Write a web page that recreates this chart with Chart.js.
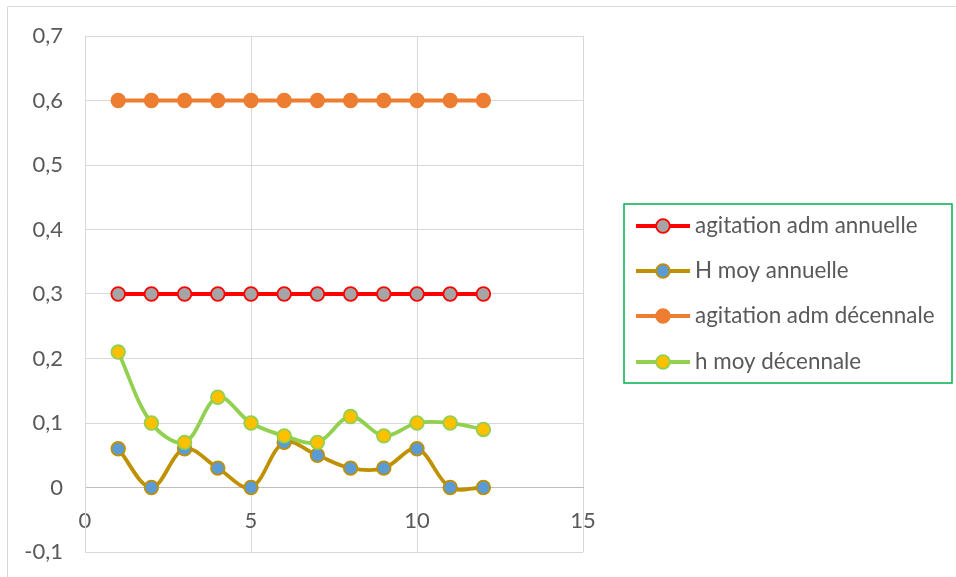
<!DOCTYPE html>
<html>
<head>
<meta charset="utf-8">
<script src="https://cdn.jsdelivr.net/npm/chart.js@4.4.0/dist/chart.umd.min.js"></script>
<style>
  html, body { margin: 0; padding: 0; background: #fff; }
  #wrap { position: relative; width: 956px; height: 577px; }
  canvas { display: block; }
</style>
</head>
<body>
<div id="wrap"><canvas id="c" width="956" height="577"></canvas></div>
<script>
// ---- data ----
const xValues = [1, 2, 3, 4, 5, 6, 7, 8, 9, 10, 11, 12];
const agitationAdmAnnuelle = [0.3, 0.3, 0.3, 0.3, 0.3, 0.3, 0.3, 0.3, 0.3, 0.3, 0.3, 0.3];
const hMoyAnnuelle = [0.06, 0, 0.06, 0.03, 0, 0.07, 0.05, 0.03, 0.03, 0.06, 0, 0];
const agitationAdmDecennale = [0.6, 0.6, 0.6, 0.6, 0.6, 0.6, 0.6, 0.6, 0.6, 0.6, 0.6, 0.6];
const hMoyDecennale = [0.21, 0.1, 0.07, 0.14, 0.1, 0.08, 0.07, 0.11, 0.08, 0.1, 0.1, 0.09];
const seriesLabels = ['agitation adm annuelle', 'H moy annuelle', 'agitation adm décennale', 'h moy décennale'];
const xTicks = [0, 5, 10, 15];
const yTicks = [-0.1, 0, 0.1, 0.2, 0.3, 0.4, 0.5, 0.6, 0.7];

const FONT = 'Lato';
const TEXT = '#595959';

function pts(ys) { return xValues.map((x, i) => ({ x: x, y: ys[i] })); }

const styles = [
  { line: '#FF0000', fill: '#A5A5A5', border: '#FF0000', tension: 0 },
  { line: '#BF9000', fill: '#5B9BD5', border: '#BF9000', tension: 0.35 },
  { line: '#ED7D31', fill: '#ED7D31', border: '#ED7D31', tension: 0 },
  { line: '#92D050', fill: '#FFC000', border: '#92D050', tension: 0.35 }
];
const values = [agitationAdmAnnuelle, hMoyAnnuelle, agitationAdmDecennale, hMoyDecennale];

const datasets = values.map((v, i) => ({
  label: seriesLabels[i],
  data: pts(v),
  showLine: true,
  borderColor: styles[i].line,
  backgroundColor: styles[i].fill,
  pointBackgroundColor: styles[i].fill,
  pointBorderColor: styles[i].border,
  pointBorderWidth: 1.8,
  pointRadius: 6.8,
  borderWidth: 3.8,
  tension: styles[i].tension,
  order: 4 - i
}));

function fmt(v) {
  const r = Math.round(v * 10) / 10;
  return String(r).replace('.', ',');
}

const frame = {
  id: 'frame',
  beforeDraw(chart) {
    const ctx = chart.ctx;
    ctx.save();
    ctx.strokeStyle = '#D9D9D9';
    ctx.lineWidth = 1;
    ctx.beginPath();
    ctx.moveTo(7.5, 577);
    ctx.lineTo(7.5, 6.5);
    ctx.lineTo(956, 6.5);
    ctx.stroke();
    ctx.restore();
  },
  afterDraw(chart) {
    const ctx = chart.ctx;
    ctx.save();
    // legend box
    ctx.strokeStyle = '#00B050';
    ctx.lineWidth = 1.5;
    ctx.strokeRect(624, 204, 328, 179);
    const ys = [226, 271, 316, 362];
    chart.data.datasets.forEach((ds, i) => {
      const y = ys[i];
      ctx.strokeStyle = ds.borderColor;
      ctx.lineWidth = 3.8;
      ctx.beginPath();
      ctx.moveTo(636, y);
      ctx.lineTo(690, y);
      ctx.stroke();
      ctx.beginPath();
      ctx.arc(663, y, 6.8, 0, Math.PI * 2);
      ctx.fillStyle = ds.pointBackgroundColor;
      ctx.fill();
      ctx.lineWidth = 1.8;
      ctx.strokeStyle = ds.pointBorderColor;
      ctx.stroke();
      ctx.fillStyle = TEXT;
      ctx.font = '22.4px ' + FONT;
      ctx.textBaseline = 'middle';
      ctx.textAlign = 'left';
      ctx.fillText(ds.label, 695, y);
    });
    ctx.restore();
  }
};

new Chart(document.getElementById('c'), {
  type: 'scatter',
  data: { datasets: datasets },
  options: {
    responsive: false,
    animation: false,
    devicePixelRatio: 1,
    layout: { padding: { left: 0, top: 36, right: 956 - 583, bottom: 577 - 552 } },
    plugins: { legend: { display: false }, tooltip: { enabled: false } },
    scales: {
      x: {
        type: 'linear',
        position: { y: 0 },
        min: 0, max: 15,
        afterBuildTicks(scale) { scale.ticks = xTicks.map(v => ({ value: v })); },
        afterFit(scale) { scale.paddingLeft = 0; scale.paddingRight = 0; },
        ticks: { color: TEXT, font: { family: FONT, size: 22 }, padding: 20, callback: v => String(v) },
        grid: { color: '#D9D9D9', lineWidth: 1, drawTicks: false },
        border: { color: '#BFBFBF', width: 1 }
      },
      y: {
        type: 'linear',
        position: 'left',
        min: -0.1, max: 0.7,
        afterBuildTicks(scale) { scale.ticks = yTicks.map(v => ({ value: v })); },
        afterFit(scale) { scale.width = 85; scale.paddingTop = 0; scale.paddingBottom = 0; },
        ticks: { color: TEXT, font: { family: FONT, size: 22 }, padding: 22, callback: v => fmt(v) },
        grid: { color: '#D9D9D9', lineWidth: 1, drawTicks: false },
        border: { color: '#D9D9D9', width: 1 }
      }
    }
  },
  plugins: [frame]
});
</script>
</body>
</html>
